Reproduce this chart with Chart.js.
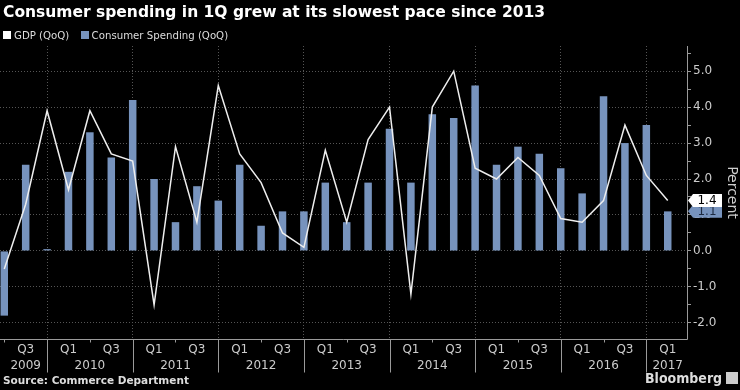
<!DOCTYPE html>
<html>
<head>
<meta charset="utf-8">
<script src="https://cdn.jsdelivr.net/npm/chart.js@4.4.1/dist/chart.umd.min.js"></script>
<style>
    html, body { margin: 0; padding: 0; background: #000; }
    #wrap { position: relative; width: 740px; height: 390px; background: #000; overflow: hidden; font-family: "DejaVu Sans", sans-serif; }
    #chart { position: absolute; left: 0; top: 0; }
    .title { position: absolute; left: 3px; top: 3px; color: #fff; font-weight: bold; font-size: 15.5px; white-space: nowrap; }
    .legend { position: absolute; left: 3px; top: 30px; color: #ddd; font-size: 10.2px; white-space: nowrap; }
    .legend span.box { display: inline-block; width: 8px; height: 8px; margin-right: 3px; }
    .legend span.item { margin-right: 8px; }
    .source { position: absolute; left: 3px; top: 374px; color: #ddd; font-weight: bold; font-size: 10.5px; white-space: nowrap; }
    .brand { position: absolute; left: 645px; top: 370px; color: #ddd; font-family: "DejaVu Sans Condensed", "DejaVu Sans", sans-serif; font-weight: bold; font-size: 14px; white-space: nowrap; }
    .brand .icon { display: inline-block; width: 12px; height: 12px; background: #ccc; margin-left: 4px; vertical-align: -1px; }
</style>
</head>
<body>
<div id="wrap">
    <canvas id="chart" width="740" height="390"></canvas>
    <div class="title">Consumer spending in 1Q grew at its slowest pace since 2013</div>
    <div class="legend">
        <span class="item"><span class="box" style="background:#ffffff"></span>GDP (QoQ)</span>
        <span class="item"><span class="box" style="background:#7793bd"></span>Consumer Spending (QoQ)</span>
    </div>
    <div class="source">Source: Commerce Department</div>
    <div class="brand">Bloomberg<span class="icon"></span></div>
</div>
<script>
// quarters from Q2 2009 to Q1 2017 (points sit at quarter end)
const quarters = [
    'Q2 2009', 'Q3 2009', 'Q4 2009',
    'Q1 2010', 'Q2 2010', 'Q3 2010', 'Q4 2010',
    'Q1 2011', 'Q2 2011', 'Q3 2011', 'Q4 2011',
    'Q1 2012', 'Q2 2012', 'Q3 2012', 'Q4 2012',
    'Q1 2013', 'Q2 2013', 'Q3 2013', 'Q4 2013',
    'Q1 2014', 'Q2 2014', 'Q3 2014', 'Q4 2014',
    'Q1 2015', 'Q2 2015', 'Q3 2015', 'Q4 2015',
    'Q1 2016', 'Q2 2016', 'Q3 2016', 'Q4 2016',
    'Q1 2017'
];
const gdp = [
    -0.5, 1.3, 3.9,
    1.7, 3.9, 2.7, 2.5,
    -1.5, 2.9, 0.8, 4.6,
    2.7, 1.9, 0.5, 0.1,
    2.8, 0.8, 3.1, 4.0,
    -1.2, 4.0, 5.0, 2.3,
    2.0, 2.6, 2.1, 0.9,
    0.8, 1.4, 3.5, 2.1,
    1.4
];
const spending = [
    -1.8, 2.4, 0.05,
    2.2, 3.3, 2.6, 4.2,
    2.0, 0.8, 1.8, 1.4,
    2.4, 0.7, 1.1, 1.1,
    1.9, 0.8, 1.9, 3.4,
    1.9, 3.8, 3.7, 4.6,
    2.4, 2.9, 2.7, 2.3,
    1.6, 4.3, 3.0, 3.5,
    1.1
];
// x tick labels: quarter line and year line
const quarterTicks = ['', 'Q3', '', 'Q1', '', 'Q3', '', 'Q1', '', 'Q3', '', 'Q1', '', 'Q3', '', 'Q1', '', 'Q3', '', 'Q1', '', 'Q3', '', 'Q1', '', 'Q3', '', 'Q1', '', 'Q3', '', 'Q1'];
const yearTicks = ['', '2009', '', '', '2010', '', '', '', '2011', '', '', '', '2012', '', '', '', '2013', '', '', '', '2014', '', '', '', '2015', '', '', '', '2016', '', '', '2017'];
const yTicks = [-2.0, -1.5, -1.0, -0.5, 0.0, 0.5, 1.0, 1.5, 2.0, 2.5, 3.0, 3.5, 4.0, 4.5, 5.0, 5.5];

const lineColor = '#eeeeee';
const barColor = '#7793bd';
const gridColor = '#555555';
const axisColor = '#9a9a9a';
const textColor = '#cccccc';

// axis lines, year separators below the axis, small Q2 ticks and the last-value tags
const extras = {
    id: 'extras',
    afterDraw(chart) {
        const ctx = chart.ctx;
        const xs = chart.scales.x;
        const ys = chart.scales.y;
        const area = chart.chartArea;
        const bottom = Math.round(area.bottom) + 0.5;
        const right = Math.round(area.right) + 0.5;
        ctx.save();
        ctx.strokeStyle = axisColor;
        ctx.lineWidth = 1;
        ctx.beginPath();
        ctx.moveTo(area.left, bottom);
        ctx.lineTo(right, bottom);
        ctx.lineTo(right, area.top);
        ctx.stroke();

        quarters.forEach((q, i) => {
            const x = Math.round(xs.getPixelForValue(i)) + 0.5;
            if (q.startsWith('Q4')) {
                ctx.beginPath();
                ctx.moveTo(x, bottom);
                ctx.lineTo(x, bottom + 33);
                ctx.stroke();
            } else if (q.startsWith('Q2')) {
                ctx.beginPath();
                ctx.moveTo(x, bottom);
                ctx.lineTo(x, bottom + 3);
                ctx.stroke();
            }
        });

        const tag = (value, fill, color) => {
            const y = ys.getPixelForValue(value);
            const x0 = area.right + 1;
            ctx.beginPath();
            ctx.moveTo(x0, y);
            ctx.lineTo(x0 + 5, y - 6.5);
            ctx.lineTo(x0 + 34, y - 6.5);
            ctx.lineTo(x0 + 34, y + 6.5);
            ctx.lineTo(x0 + 5, y + 6.5);
            ctx.closePath();
            ctx.fillStyle = fill;
            ctx.fill();
            ctx.fillStyle = color;
            ctx.font = '12px "DejaVu Sans"';
            ctx.textAlign = 'center';
            ctx.textBaseline = 'middle';
            ctx.fillText(value.toFixed(1), x0 + 19, y + 0.5);
        };
        tag(spending[spending.length - 1], barColor, '#1d2a40');
        tag(gdp[gdp.length - 1], '#ffffff', '#000000');
        ctx.restore();
    }
};

new Chart(document.getElementById('chart'), {
    data: {
        datasets: [
            {
                type: 'line',
                label: 'GDP (QoQ)',
                data: gdp.map((v, i) => ({ x: i, y: v })),
                borderColor: lineColor,
                borderWidth: 1.5,
                pointRadius: 0,
                tension: 0,
                order: 0
            },
            {
                type: 'bar',
                label: 'Consumer Spending (QoQ)',
                data: spending.map((v, i) => ({ x: i, y: v })),
                backgroundColor: barColor,
                barPercentage: 0.35,
                categoryPercentage: 1,
                order: 1
            }
        ]
    },
    options: {
        responsive: false,
        devicePixelRatio: 1,
        animation: false,
        layout: { padding: { top: 46, left: 0, right: 0, bottom: 0 } },
        plugins: {
            legend: { display: false },
            tooltip: { enabled: false }
        },
        scales: {
            x: {
                type: 'linear',
                offset: false,
                min: -0.2,
                max: 31.9,
                afterBuildTicks(scale) {
                    scale.ticks = quarters.map((q, i) => ({ value: i }));
                },
                afterFit(scale) { scale.height = 51; },
                grid: {
                    offset: false,
                    color: (c) => (c.tick && quarters[c.tick.value] && quarters[c.tick.value].startsWith('Q4')) ? gridColor : 'rgba(0,0,0,0)',
                    drawTicks: false
                },
                border: { display: false, dash: [1, 2] },
                ticks: {
                    autoSkip: false,
                    maxRotation: 0,
                    padding: 3,
                    color: textColor,
                    font: { family: 'DejaVu Sans', size: 12, lineHeight: 1.35 },
                    callback: (v) => [quarterTicks[v], yearTicks[v]]
                }
            },
            y: {
                position: 'right',
                min: -2.45,
                max: 5.7,
                afterBuildTicks(scale) {
                    scale.ticks = yTicks.map(v => ({ value: v }));
                },
                afterFit(scale) { scale.width = 53; },
                grid: {
                    color: (c) => (c.tick && Number.isInteger(c.tick.value)) ? gridColor : 'rgba(0,0,0,0)',
                    tickColor: axisColor,
                    tickLength: 4
                },
                border: { display: false, dash: [1, 2] },
                ticks: {
                    padding: 2,
                    color: textColor,
                    font: { family: 'DejaVu Sans', size: 12 },
                    callback: (v) => Number.isInteger(v) ? v.toFixed(1) : ''
                },
                title: {
                    display: true,
                    text: 'Percent',
                    color: textColor,
                    font: { family: 'DejaVu Sans', size: 14 },
                    padding: 0
                }
            }
        }
    },
    plugins: [extras]
});
</script>
</body>
</html>
